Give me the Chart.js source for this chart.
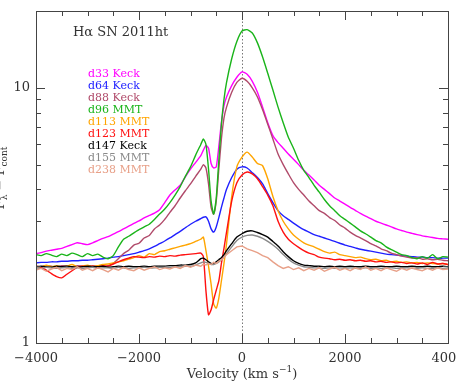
<!DOCTYPE html>
<html>
<head>
<meta charset="utf-8">
<script src="https://cdn.jsdelivr.net/npm/chart.js@4.4.1/dist/chart.umd.min.js"></script>
<style>
  html, body { margin: 0; padding: 0; background: #fff; }
  canvas { display: block; }
</style>
</head>
<body>
<canvas id="spec" width="457" height="381"></canvas>
<script>
// velocity grid (km/s)
const velocity = [
  -4000, -3900, -3800, -3700, -3600, -3500, -3400, -3300, -3200, -3100,
  -3000, -2900, -2800, -2700, -2600, -2500, -2400, -2300, -2200, -2100,
  -2000, -1900, -1800, -1700, -1600, -1500, -1400, -1300, -1200, -1100,
  -1000, -900, -800, -750, -700, -650, -600, -550, -500, -450,
  -400, -350, -300, -200, -100, 0, 100, 200, 300, 400,
  500, 600, 700, 800, 900, 1000, 1100, 1200, 1300, 1400,
  1500, 1600, 1700, 1800, 1900, 2000, 2100, 2200, 2300, 2400,
  2500, 2600, 2700, 2800, 2900, 3000, 3100, 3200, 3300, 3400,
  3500, 3600, 3700, 3800, 3900, 4000
];

const d33 = [
  2.24, 2.26, 2.29, 2.31, 2.33, 2.35, 2.39, 2.43, 2.47, 2.45,
  2.43, 2.47, 2.52, 2.57, 2.61, 2.67, 2.73, 2.80, 2.87, 2.94,
  3.01, 3.09, 3.16, 3.23, 3.33, 3.55, 3.80, 3.98, 4.15, 4.48,
  4.80, 5.10, 5.42, 5.70, 5.95, 5.80, 5.05, 4.85, 4.90, 5.90,
  7.30, 8.50, 9.20, 10.2, 11.0, 11.55, 11.3, 10.6, 9.6, 8.4,
  7.3, 6.5, 6.1, 5.8, 5.5, 5.25, 5.0, 4.75, 4.55, 4.35,
  4.15, 4.0, 3.85, 3.7, 3.6, 3.5, 3.4, 3.31, 3.22, 3.14,
  3.07, 3.0, 2.95, 2.9, 2.85, 2.8, 2.76, 2.72, 2.69, 2.66,
  2.63, 2.61, 2.59, 2.57, 2.56, 2.55
];
const d64 = [
  2.06, 2.07, 2.07, 2.08, 2.08, 2.09, 2.09, 2.10, 2.10, 2.11,
  2.11, 2.12, 2.13, 2.14, 2.15, 2.17, 2.18, 2.20, 2.22, 2.24,
  2.27, 2.30, 2.34, 2.39, 2.45, 2.51, 2.58, 2.66, 2.74, 2.83,
  2.92, 3.00, 3.07, 3.11, 3.12, 3.00, 2.80, 2.72, 2.85, 3.10,
  3.40, 3.70, 4.00, 4.45, 4.80, 4.90, 4.85, 4.65, 4.45, 4.20,
  3.85, 3.55, 3.30, 3.15, 3.05, 2.95, 2.86, 2.78, 2.72, 2.66,
  2.62, 2.58, 2.54, 2.50, 2.46, 2.42, 2.39, 2.36, 2.33, 2.31,
  2.29, 2.27, 2.25, 2.23, 2.22, 2.21, 2.20, 2.19, 2.18, 2.17,
  2.17, 2.16, 2.16, 2.15, 2.15, 2.15
];
const d88 = [
  2.00, 1.99, 2.01, 2.00, 1.98, 2.01, 2.00, 1.99, 2.01, 2.00,
  1.99, 2.01, 2.00, 1.99, 2.01, 2.05, 2.14, 2.24, 2.31, 2.42,
  2.46, 2.58, 2.64, 2.80, 2.90, 3.05, 3.25, 3.45, 3.70, 3.95,
  4.20, 4.50, 4.80, 5.00, 4.85, 4.20, 3.40, 3.20, 3.60, 4.80,
  6.30, 7.60, 8.40, 9.60, 10.5, 10.9, 10.6, 10.0, 9.2, 8.2,
  7.2, 6.3, 5.5, 5.0, 4.6, 4.25, 4.0, 3.8, 3.6, 3.45,
  3.3, 3.22, 3.1, 3.02, 2.9, 2.82, 2.72, 2.64, 2.58, 2.52,
  2.45, 2.40, 2.34, 2.30, 2.25, 2.22, 2.19, 2.17, 2.15, 2.16,
  2.13, 2.14, 2.12, 2.13, 2.11, 2.10
];
const d96 = [
  2.22, 2.20, 2.24, 2.21, 2.18, 2.23, 2.20, 2.25, 2.22, 2.18,
  2.24, 2.20, 2.23, 2.17, 2.14, 2.20, 2.38, 2.55, 2.62, 2.70,
  2.78, 2.85, 2.92, 3.05, 3.20, 3.35, 3.55, 3.80, 4.10, 4.50,
  4.90, 5.45, 6.00, 6.30, 6.00, 4.80, 3.60, 3.20, 3.70, 5.20,
  7.20, 9.00, 10.5, 13.0, 15.2, 16.7, 16.9, 16.4, 15.0, 13.2,
  11.4, 9.8, 8.4, 7.3, 6.4, 5.8, 5.2, 4.75, 4.45, 4.15,
  3.9, 3.65, 3.45, 3.3, 3.15, 3.05, 2.95, 2.85, 2.75, 2.68,
  2.6, 2.52, 2.47, 2.38, 2.32, 2.27, 2.22, 2.20, 2.16, 2.14,
  2.18, 2.15, 2.22, 2.14, 2.18, 2.17
];
const d113 = [
  2.00, 1.98, 2.02, 1.99, 2.01, 1.98, 2.00, 2.03, 1.99, 2.00,
  2.02, 1.99, 2.01, 2.03, 2.04, 2.06, 2.08, 2.10, 2.13, 2.16,
  2.20, 2.17, 2.24, 2.22, 2.28, 2.30, 2.33, 2.36, 2.39, 2.42,
  2.45, 2.50, 2.55, 2.60, 2.30, 2.00, 1.70, 1.42, 1.37, 1.50,
  1.75, 2.05, 2.45, 3.75, 4.90, 5.35, 5.60, 5.35, 5.05, 4.95,
  4.40, 3.75, 3.30, 3.00, 2.80, 2.65, 2.55, 2.47, 2.42, 2.38,
  2.33, 2.28, 2.25, 2.27, 2.22, 2.20, 2.18, 2.16, 2.17, 2.14,
  2.12, 2.13, 2.10, 2.11, 2.08, 2.09, 2.07, 2.08, 2.06, 2.07,
  2.05, 2.06, 2.05, 2.04, 2.05, 2.03
];
const d123 = [
  2.00, 1.98, 1.93, 1.87, 1.82, 1.80, 1.86, 1.92, 1.98, 2.00,
  1.99, 2.00, 1.98, 2.01, 2.00, 2.04, 2.08, 2.12, 2.15, 2.18,
  2.17, 2.16, 2.18, 2.17, 2.19, 2.18, 2.20, 2.19, 2.21, 2.22,
  2.23, 2.24, 2.25, 2.18, 1.60, 1.29, 1.35, 1.48, 1.61, 1.75,
  2.05, 2.35, 2.72, 3.60, 4.25, 4.55, 4.68, 4.60, 4.40, 4.10,
  3.80, 3.45, 3.00, 2.72, 2.55, 2.45, 2.37, 2.30, 2.25, 2.22,
  2.17, 2.15, 2.14, 2.12, 2.13, 2.11, 2.12, 2.10, 2.11, 2.09,
  2.10, 2.08, 2.09, 2.07, 2.08, 2.06, 2.07, 2.05, 2.06, 2.04,
  2.06, 2.03, 2.07, 2.04, 2.05, 2.03
];
const d147 = [
  1.99, 2.00, 1.99, 1.98, 2.00, 1.99, 2.00, 1.99, 1.98, 1.99,
  2.00, 1.99, 1.99, 2.00, 1.98, 1.99, 2.00, 1.99, 2.00, 1.99,
  1.99, 2.00, 1.99, 2.00, 2.00, 2.00, 2.01, 2.01, 2.02, 2.02,
  2.03, 2.06, 2.14, 2.15, 2.12, 2.08, 2.05, 2.05, 2.08, 2.12,
  2.16, 2.22, 2.30, 2.45, 2.60, 2.68, 2.74, 2.75, 2.71, 2.66,
  2.60, 2.50, 2.40, 2.28, 2.18, 2.10, 2.05, 2.02, 2.01, 2.00,
  2.00, 1.99, 2.00, 1.99, 2.00, 1.99, 2.00, 1.99, 1.99, 2.00,
  1.99, 1.99, 2.00, 1.99, 1.99, 2.00, 1.99, 1.99, 2.00, 1.99,
  1.99, 2.00, 1.99, 1.99, 2.00, 1.99
];
const d155 = [
  1.97, 1.96, 1.98, 1.97, 1.96, 1.97, 1.98, 1.96, 1.97, 1.96,
  1.97, 1.98, 1.96, 1.97, 1.97, 1.96, 1.98, 1.97, 1.96, 1.97,
  1.97, 1.98, 1.97, 1.97, 1.98, 1.98, 1.98, 1.99, 1.99, 2.00,
  2.00, 2.02, 2.06, 2.08, 2.07, 2.05, 2.03, 2.03, 2.05, 2.08,
  2.12, 2.17, 2.24, 2.38, 2.52, 2.60, 2.64, 2.65, 2.62, 2.57,
  2.50, 2.42, 2.33, 2.22, 2.13, 2.06, 2.02, 1.99, 1.98, 1.97,
  1.97, 1.96, 1.97, 1.96, 1.97, 1.96, 1.97, 1.96, 1.96, 1.97,
  1.96, 1.97, 1.96, 1.96, 1.97, 1.96, 1.96, 1.97, 1.96, 1.96,
  1.97, 1.96, 1.96, 1.97, 1.96, 1.96
];
const d238 = [
  1.93, 1.96, 1.91, 1.95, 1.98, 1.92, 1.96, 1.94, 1.99, 1.93,
  1.96, 1.92, 1.97, 1.94, 1.90, 1.96, 1.93, 1.98, 1.94, 1.92,
  1.97, 1.93, 1.96, 1.99, 1.94, 1.97, 1.95, 1.99, 1.96, 2.01,
  1.98, 2.02, 2.00, 2.04, 2.02, 2.05, 2.03, 2.07, 2.05, 2.09,
  2.12, 2.16, 2.22, 2.30, 2.38, 2.40, 2.34, 2.30, 2.26, 2.20,
  2.16, 2.08, 2.01, 1.96, 1.99, 1.94, 1.97, 1.92, 1.96, 1.93,
  1.97, 1.91, 1.95, 1.98, 1.93, 1.96, 1.92, 1.97, 1.94, 1.99,
  1.93, 1.96, 1.92, 1.97, 1.94, 1.91, 1.96, 1.93, 1.97, 1.94,
  1.92, 1.96, 1.93, 1.97, 1.94, 1.95
];

const labels = ['d33 Keck', 'd64 Keck', 'd88 Keck', 'd96 MMT', 'd113 MMT', 'd123 MMT', 'd147 Keck', 'd155 MMT', 'd238 MMT'];
const series = [d33, d64, d88, d96, d113, d123, d147, d155, d238];
const colors = ['#ff00ff', '#2020ff', '#b04a6a', '#1ab41a', '#ffa500', '#ff1010', '#000000', '#8a8a8a', '#e8a088'];

const xTickLabels = [-4000, -2000, 0, 2000, 4000];
const yTickLabels = [1, 10];

const FONT = '"DejaVu Serif", serif';

const datasets = series.map((s, i) => ({
  label: labels[i],
  data: velocity.map((v, j) => ({ x: v, y: s[j] })),
  borderColor: colors[i],
  borderWidth: 1.4,
  pointRadius: 0,
  tension: i === 8 ? 0 : 0.2,
  order: series.length - i
}));

// frame, inward ticks, labels and annotations drawn by hand (IDL style)
const decor = {
  id: 'decor',
  beforeDatasetsDraw(chart) {
    const ctx = chart.ctx, xs = chart.scales.x, ca = chart.chartArea;
    const x0 = xs.getPixelForValue(0);
    ctx.save();
    ctx.strokeStyle = '#777';
    ctx.lineWidth = 1;
    ctx.setLineDash([1.5, 2]);
    ctx.beginPath();
    ctx.moveTo(Math.round(x0) + 0.5, ca.top);
    ctx.lineTo(Math.round(x0) + 0.5, ca.bottom);
    ctx.stroke();
    ctx.restore();
  },
  afterDraw(chart) {
    const ctx = chart.ctx, xs = chart.scales.x, ys = chart.scales.y, ca = chart.chartArea;
    ctx.save();
    ctx.strokeStyle = '#444';
    ctx.lineWidth = 1;
    ctx.strokeRect(ca.left + 0.5, ca.top + 0.5, ca.right - ca.left, ca.bottom - ca.top);

    ctx.beginPath();
    for (let v = -4000; v <= 4000; v += 500) {
      const px = Math.round(xs.getPixelForValue(v)) + 0.5;
      const len = (v % 2000 === 0) ? 9 : 5;
      ctx.moveTo(px, ca.bottom); ctx.lineTo(px, ca.bottom - len);
      ctx.moveTo(px, ca.top); ctx.lineTo(px, ca.top + len);
    }
    for (let d = 1; d <= 10; d *= 10) {
      for (let k = 1; k <= 9; k++) {
        const val = d * k;
        if (val > 20) continue;
        const py = Math.round(ys.getPixelForValue(val)) + 0.5;
        const len = (k === 1) ? 9 : 5;
        ctx.moveTo(ca.left, py); ctx.lineTo(ca.left + len, py);
        ctx.moveTo(ca.right, py); ctx.lineTo(ca.right - len, py);
      }
    }
    ctx.stroke();

    ctx.fillStyle = '#333';
    ctx.font = '13px ' + FONT;
    ctx.textAlign = 'center';
    ctx.textBaseline = 'middle';
    xTickLabels.forEach(v => {
      const t = v < 0 ? '\u2212' + Math.abs(v) : String(v);
      ctx.fillText(t, xs.getPixelForValue(v), ca.bottom + 16);
    });
    ctx.textAlign = 'right';
    yTickLabels.forEach(v => {
      ctx.fillText(String(v), ca.left - 6, ys.getPixelForValue(v));
    });

    // x title with superscript
    ctx.font = '13px ' + FONT;
    ctx.textAlign = 'left';
    ctx.textBaseline = 'alphabetic';
    const p1 = 'Velocity (km s', p2 = '\u22121', p3 = ')';
    const w1 = ctx.measureText(p1).width, w3 = ctx.measureText(p3).width;
    ctx.font = '9px ' + FONT;
    const w2 = ctx.measureText(p2).width;
    let tx = (ca.left + ca.right) / 2 - (w1 + w2 + w3) / 2;
    const ty = 378;
    ctx.font = '13px ' + FONT;
    ctx.fillText(p1, tx, ty);
    ctx.font = '9px ' + FONT;
    ctx.fillText(p2, tx + w1, ty - 6);
    ctx.font = '13px ' + FONT;
    ctx.fillText(p3, tx + w1 + w2, ty);

    // y title (mostly outside the picture, as in the original)
    ctx.save();
    ctx.translate(4, 178);
    ctx.rotate(-Math.PI / 2);
    ctx.textAlign = 'left';
    const parts = [['F', 13, 0], ['\u03bb', 9, 3], [' \u2212 F', 13, 0], ['cont', 9, 3]];
    let total = 0;
    parts.forEach(p => { ctx.font = p[1] + 'px ' + FONT; total += ctx.measureText(p[0]).width; });
    let cx = -total / 2;
    parts.forEach(p => {
      ctx.font = p[1] + 'px ' + FONT;
      ctx.fillText(p[0], cx, p[2]);
      cx += ctx.measureText(p[0]).width;
    });
    ctx.restore();

    // title
    ctx.fillStyle = '#333';
    ctx.font = '13px ' + FONT;
    ctx.textBaseline = 'middle';
    ctx.fillText('H\u03b1 SN 2011ht', 73, 33);

    // legend
    ctx.font = '11px ' + FONT;
    labels.forEach((l, i) => {
      ctx.fillStyle = colors[i];
      ctx.fillText(l, 88, 74 + i * 12);
    });
    ctx.restore();
  }
};

new Chart(document.getElementById('spec'), {
  type: 'line',
  data: { datasets: datasets },
  options: {
    responsive: false,
    animation: false,
    devicePixelRatio: 1,
    layout: { padding: { left: 36, right: 9, top: 11, bottom: 38 } },
    plugins: { legend: { display: false }, tooltip: { enabled: false } },
    scales: {
      x: { type: 'linear', min: -4000, max: 4000, display: false },
      y: { type: 'logarithmic', min: 1, max: 20, display: false }
    }
  },
  plugins: [decor]
});
</script>
</body>
</html>
